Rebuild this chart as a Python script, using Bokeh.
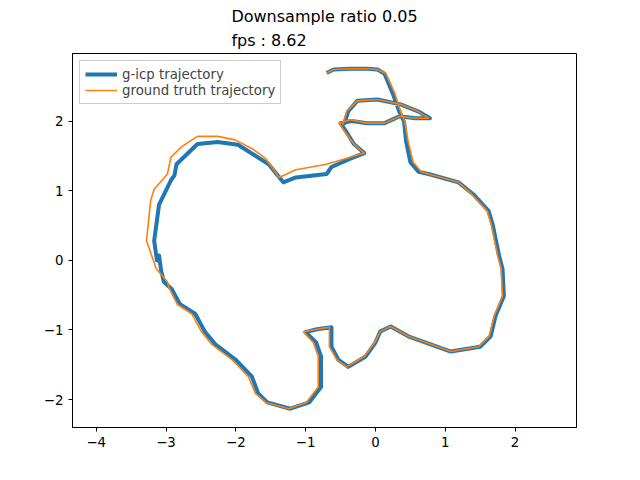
from bokeh.plotting import figure
from bokeh.models import Range1d, Title, FixedTicker, Legend, LegendItem
from bokeh.embed import file_html
from bokeh.resources import INLINE

gt_x = [-0.70,-0.60,-0.36,-0.12,0.03,0.15,0.28,0.36,0.42,0.47,0.54,0.66,0.76,1.19,1.38,1.60,1.66,1.75,1.80,1.82,1.70,1.63,1.48,1.08,0.80,0.47,0.22,0.07,-0.01,-0.16,-0.41,-0.55,-0.66,-0.66,-0.84,-1.03,-0.89,-0.82,-0.82,-0.99,-1.24,-1.57,-1.72,-1.82,-2.05,-2.34,-2.49,-2.63,-2.84,-2.95,-2.98,-3.14,-3.28,-3.22,-3.17,-2.98,-2.93,-2.78,-2.55,-2.26,-2.01,-1.76,-1.57,-1.38,-1.14,-0.70,-0.36,-0.16,-0.31,-0.44,-0.52,-0.36,-0.12,0.13,0.35,0.57,0.76,0.61,0.36,0.03,-0.26,-0.41,-0.47]
gt_y = [2.69,2.74,2.75,2.75,2.74,2.68,2.39,2.14,1.99,1.70,1.41,1.27,1.24,1.12,0.95,0.71,0.51,0.07,-0.12,-0.51,-0.80,-1.09,-1.24,-1.31,-1.21,-1.09,-0.95,-1.02,-1.18,-1.38,-1.53,-1.43,-1.24,-0.96,-0.99,-1.03,-1.18,-1.38,-1.82,-2.04,-2.13,-2.04,-1.91,-1.67,-1.43,-1.21,-1.03,-0.77,-0.63,-0.41,-0.31,-0.12,0.28,0.86,1.02,1.24,1.48,1.63,1.78,1.78,1.73,1.60,1.46,1.19,1.30,1.38,1.48,1.54,1.67,1.85,1.97,2.02,1.97,1.97,2.07,2.04,2.04,2.14,2.24,2.31,2.29,2.14,1.95]

icp_x = [-0.70,-0.60,-0.36,-0.12,0.03,0.13,0.25,0.34,0.41,0.44,0.50,0.62,0.76,1.19,1.40,1.62,1.68,1.77,1.82,1.84,1.72,1.65,1.50,1.08,0.80,0.47,0.22,0.07,0.00,-0.14,-0.39,-0.53,-0.63,-0.63,-0.84,-1.00,-0.85,-0.78,-0.78,-0.95,-1.22,-1.55,-1.68,-1.77,-2.00,-2.29,-2.44,-2.58,-2.80,-2.92,-3.03,-3.07,-3.10,-3.13,-3.17,-3.10,-2.93,-2.88,-2.85,-2.55,-2.26,-1.97,-1.53,-1.32,-1.14,-0.70,-0.63,-0.36,-0.16,-0.31,-0.42,-0.50,-0.34,-0.12,0.13,0.35,0.57,0.78,0.61,0.36,0.03,-0.26,-0.39,-0.45]
icp_y = [2.69,2.74,2.75,2.75,2.74,2.68,2.39,2.14,1.99,1.70,1.41,1.27,1.24,1.12,0.95,0.71,0.51,0.07,-0.12,-0.51,-0.80,-1.09,-1.24,-1.31,-1.21,-1.09,-0.95,-1.02,-1.18,-1.38,-1.53,-1.43,-1.24,-0.96,-0.99,-1.03,-1.18,-1.38,-1.82,-2.04,-2.13,-2.04,-1.91,-1.67,-1.43,-1.21,-1.03,-0.77,-0.63,-0.41,-0.31,-0.15,0.07,0.00,0.28,0.80,1.15,1.22,1.38,1.67,1.70,1.66,1.38,1.12,1.19,1.24,1.34,1.46,1.54,1.67,1.85,1.97,2.00,1.97,1.97,2.07,2.04,2.04,2.14,2.24,2.31,2.29,2.14,1.95]

x_ticks = [-4, -3, -2, -1, 0, 1, 2]
y_ticks = [-2, -1, 0, 1, 2]

p = figure(width=624, height=464, output_backend="svg", toolbar_location=None,
           x_range=Range1d(-4.34, 2.88), y_range=Range1d(-2.40, 2.97),
           min_border_left=72, min_border_right=48, min_border_top=10, min_border_bottom=37)
p.grid.visible = False
p.outline_line_color = "black"
p.xaxis.ticker = FixedTicker(ticks=x_ticks)
p.yaxis.ticker = FixedTicker(ticks=y_ticks)
for ax in (p.xaxis, p.yaxis):
    ax.major_label_text_font = "DejaVu Sans"
    ax.major_label_text_font_size = "10pt"
    ax.major_label_text_color = "black"
    ax.minor_tick_line_color = None
    ax.axis_line_color = "black"
    ax.major_tick_line_color = "black"
    ax.major_tick_in = 0
    ax.major_tick_out = 4

r1 = p.line(icp_x, icp_y, line_width=4, line_color="#1f77b4", line_join="round")
r2 = p.line(gt_x, gt_y, line_width=1.6, line_color="#ff7f0e", line_join="round")

leg = Legend(items=[LegendItem(label="g-icp trajectory", renderers=[r1]),
                    LegendItem(label="ground truth trajectory", renderers=[r2])],
             location="top_left", label_text_font="DejaVu Sans", label_text_font_size="10pt",
             border_line_color="#cccccc", border_line_alpha=1, margin=7, padding=5,
             spacing=0, label_height=16, glyph_height=16, glyph_width=32)
p.add_layout(leg)

p.title = Title(text="Downsample ratio 0.05\nfps : 8.62", align="center", text_font="DejaVu Sans",
                text_font_size="12pt", text_font_style="normal", text_color="black",
                text_line_height=1.25, standoff=8)

open("out.html", "w").write(file_html(p, INLINE))
